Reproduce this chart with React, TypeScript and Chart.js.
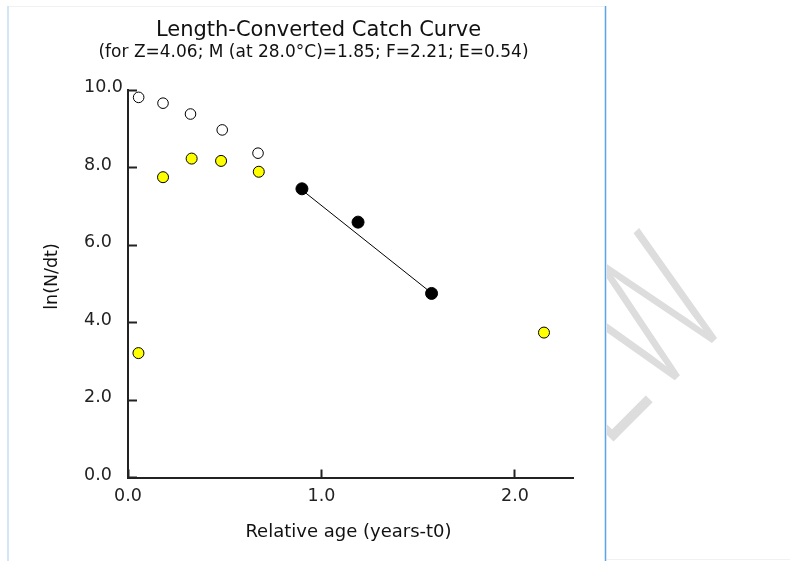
import React, { useEffect, useRef } from 'react';
import { Chart, registerables } from 'chart.js';

Chart.register(...registerables);

// ---- text ----
const titleText = 'Length-Converted Catch Curve';
const subtitleText = '(for Z=4.06; M (at 28.0°C)=1.85; F=2.21; E=0.54)';
const xAxisTitle = 'Relative age (years-t0)';
const yAxisTitle = 'ln(N/dt)';
const watermarkText = 'EW';

// ---- ticks ----
const xTicks = [0, 1, 2];
const yTicks = [0, 2, 4, 6, 8, 10];

// ---- data ----
// uncorrected ln(N/dt) (open circles)
const openAge = [0.055, 0.181, 0.323, 0.487, 0.672];
const openLnN = [9.81, 9.66, 9.38, 8.97, 8.37];
// points not used in the regression (yellow)
const excludedAge = [0.054, 0.181, 0.329, 0.481, 0.676, 2.15];
const excludedLnN = [3.21, 7.75, 8.23, 8.17, 7.89, 3.74];
// points used in the regression (black)
const usedAge = [0.899, 1.189, 1.569];
const usedLnN = [7.45, 6.59, 4.75];
// regression line end points
const fitAge = [0.899, 1.569];
const fitLnN = [7.42, 4.76];

const toXY = (xs: number[], ys: number[]) => xs.map((x, i) => ({ x, y: ys[i] }));

const FONT = '"DejaVu Sans", "Liberation Sans", Arial, sans-serif';

const textPlugin = {
  id: 'catchTexts',
  beforeDraw(chart: any) {
    const ctx = chart.ctx as CanvasRenderingContext2D;
    // watermark in the right-hand panel
    ctx.save();
    ctx.beginPath();
    ctx.rect(607, 0, 183, 561);
    ctx.clip();
    ctx.translate(735.4, 319.6);
    ctx.rotate(-Math.PI / 4);
    ctx.scale(0.67, 1);
    ctx.font = '300 187px Roboto, "Open Sans", sans-serif';
    ctx.fillStyle = '#dddddd';
    ctx.textAlign = 'right';
    ctx.textBaseline = 'alphabetic';
    ctx.fillText(watermarkText, 0, 0);
    ctx.restore();
  },
  afterDraw(chart: any) {
    const ctx = chart.ctx as CanvasRenderingContext2D;
    ctx.save();
    ctx.fillStyle = '#111111';
    ctx.textAlign = 'center';
    ctx.textBaseline = 'alphabetic';
    ctx.font = `21px ${FONT}`;
    ctx.fillText(titleText, 318.5, 36);
    ctx.font = `17px ${FONT}`;
    ctx.fillText(subtitleText, 313.5, 56.5);
    ctx.font = `18px ${FONT}`;
    ctx.fillText(xAxisTitle, 348.5, 537);
    ctx.translate(57, 276.5);
    ctx.rotate(-Math.PI / 2);
    ctx.font = `17.5px ${FONT}`;
    ctx.fillText(yAxisTitle, 0, 0);
    ctx.restore();
  },
};

export default function App() {
  const ref = useRef<HTMLCanvasElement | null>(null);

  useEffect(() => {
    if (!ref.current) return;
    const tickFont = { family: FONT, size: 17.5 };
    const chart = new Chart(ref.current, {
      type: 'scatter',
      data: {
        datasets: [
          {
            label: 'used',
            data: toXY(usedAge, usedLnN),
            pointRadius: 6,
            pointBackgroundColor: '#000000',
            pointBorderColor: '#000000',
            pointBorderWidth: 1,
            order: 1,
          },
          {
            label: 'excluded',
            data: toXY(excludedAge, excludedLnN),
            pointRadius: 5.5,
            pointBackgroundColor: '#ffff00',
            pointBorderColor: '#000000',
            pointBorderWidth: 1,
            order: 1,
          },
          {
            label: 'uncorrected',
            data: toXY(openAge, openLnN),
            pointRadius: 5.3,
            pointBackgroundColor: '#ffffff',
            pointBorderColor: '#000000',
            pointBorderWidth: 1,
            order: 1,
          },
          {
            type: 'line',
            label: 'fit',
            data: toXY(fitAge, fitLnN),
            borderColor: '#000000',
            borderWidth: 1,
            pointRadius: 0,
            fill: false,
            order: 2,
          } as any,
        ],
      },
      options: {
        responsive: false,
        animation: false,
        devicePixelRatio: 1,
        layout: { padding: { left: 84, top: 90, right: 217, bottom: 43.5 } },
        plugins: {
          legend: { display: false },
          tooltip: { enabled: false },
          title: { display: false },
        },
        scales: {
          x: {
            type: 'linear',
            position: 'bottom',
            min: 0,
            max: 2.3,
            afterBuildTicks: (s: any) => {
              s.ticks = xTicks.map((v) => ({ value: v }));
            },
            afterFit: (s: any) => {
              s.height = 40;
            },
            ticks: {
              callback: (v: any) => Number(v).toFixed(1),
              font: tickFont,
              color: '#222222',
              padding: 16.5,
              maxRotation: 0,
              autoSkip: false,
            },
            grid: {
              drawOnChartArea: false,
              drawTicks: true,
              tickLength: -8,
              tickColor: '#222222',
              tickWidth: 2,
            },
            border: { display: true, color: '#222222', width: 2 },
          },
          y: {
            type: 'linear',
            position: 'left',
            min: 0,
            max: 10,
            afterBuildTicks: (s: any) => {
              s.ticks = yTicks.map((v) => ({ value: v }));
            },
            afterFit: (s: any) => {
              s.width = 44;
            },
            ticks: {
              callback: (v: any) => Number(v).toFixed(1),
              font: tickFont,
              color: '#222222',
              crossAlign: 'far',
              labelOffset: -2.5,
              padding: 0,
              autoSkip: false,
            },
            grid: {
              drawOnChartArea: false,
              drawTicks: true,
              tickLength: -9,
              tickColor: '#222222',
              tickWidth: 2,
            },
            border: { display: true, color: '#222222', width: 2 },
          },
        },
      } as any,
      plugins: [textPlugin],
    });
    return () => chart.destroy();
  }, []);

  return (
    <div
      style={{
        position: 'fixed',
        left: 0,
        top: 0,
        width: 790,
        height: 561,
        background: '#ffffff',
        overflow: 'hidden',
      }}
    >
      <div style={{ position: 'absolute', left: 7, top: 6, width: 2, height: 555, background: '#d4e6f6' }} />
      <div style={{ position: 'absolute', left: 9, top: 6, width: 595, height: 1, background: '#f1f1f1' }} />
      <div style={{ position: 'absolute', left: 604, top: 6, width: 3, height: 555, background: '#d3e7f8' }} />
      <div style={{ position: 'absolute', left: 605, top: 6, width: 1, height: 555, background: '#5aa6e6' }} />
      <div style={{ position: 'absolute', left: 607, top: 559, width: 183, height: 1, background: '#f1f1f1' }} />
      <canvas
        ref={ref}
        width={790}
        height={561}
        style={{ position: 'absolute', left: 0, top: 0, width: 790, height: 561, display: 'block' }}
      />
    </div>
  );
}
